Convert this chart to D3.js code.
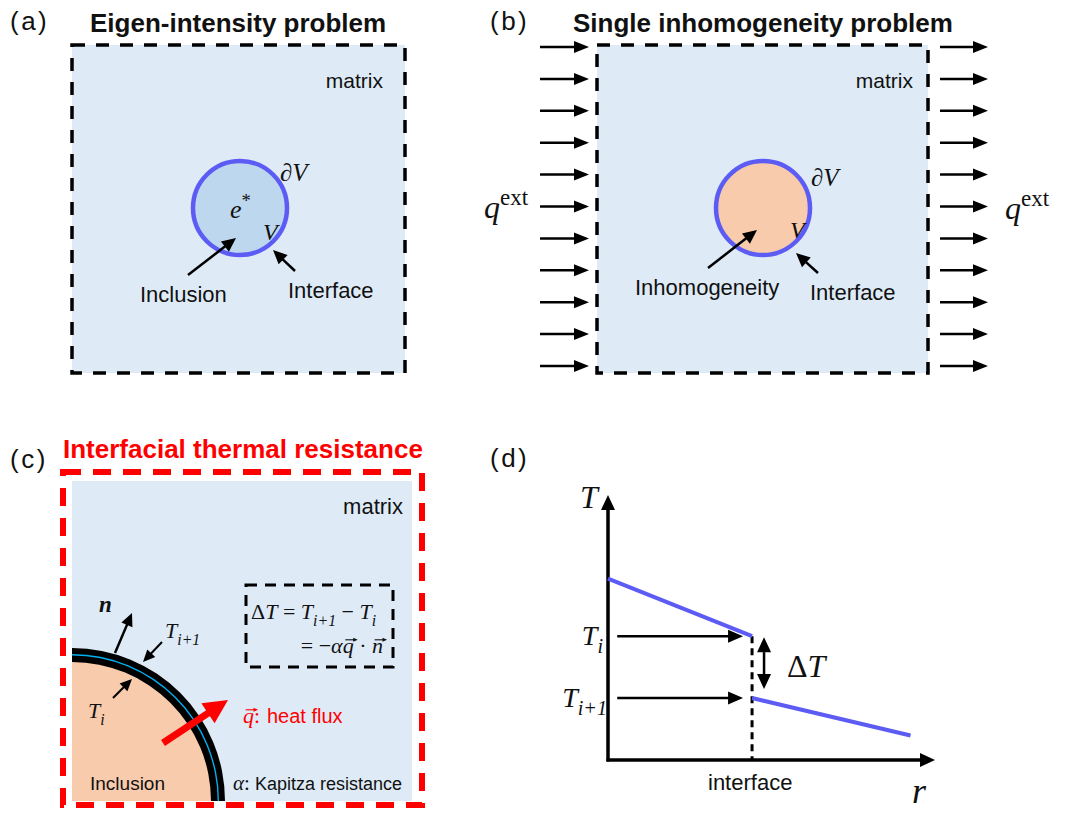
<!DOCTYPE html>
<html>
<head>
<meta charset="utf-8">
<script src="https://cdn.jsdelivr.net/npm/d3@7"></script>
<style>
  body { margin: 0; background: #fff; }
  svg { display: block; }
</style>
</head>
<body>
<div id="fig"></div>
<script>
// panel labels and titles
var panelLabels = ["(a)", "(b)", "(c)", "(d)"];
var panelTitles = ["Eigen-intensity problem", "Single inhomogeneity problem", "Interfacial thermal resistance"];

// external flux arrows in (b), one per row
var fluxRows = [0, 1, 2, 3, 4, 5, 6, 7, 8, 9, 10];

// temperature profile in (d): r vs T on both sides of the interface
var rInner = [0, 5],    TInner = [6.3, 4.3];
var rOuter = [5, 10.5], TOuter = [2.15, 0.85];
var rInterface = 5;
var rMax = 11.35, TMax = 9.2;

var SANS = "'Liberation Sans', Arial, sans-serif";
var SERIF = "'Liberation Serif', 'DejaVu Serif', serif";
var matrixFill = "#deebf7";
var ringBlue = "#5c5cf5";

var svg = d3.select("#fig").append("svg")
    .attr("width", 1078)
    .attr("height", 813);

// ---------- helpers ----------
function arrow(g, x1, y1, x2, y2, o) {
  o = o || {};
  var w = o.w || 2.5, L = o.L || 13, H = o.H || 12, c = o.c || "#000";
  var dx = x2 - x1, dy = y2 - y1, len = Math.hypot(dx, dy);
  var ux = dx / len, uy = dy / len;
  var bx = x2 - ux * L, by = y2 - uy * L;
  var sx = x1, sy = y1;
  if (o.both) { sx = x1 + ux * L; sy = y1 + uy * L; }
  g.append("line")
    .attr("x1", sx).attr("y1", sy)
    .attr("x2", bx + ux * 2).attr("y2", by + uy * 2)
    .attr("stroke", c).attr("stroke-width", w);
  g.append("path")
    .attr("d", "M" + x2 + "," + y2 + "L" + (bx - uy * H / 2) + "," + (by + ux * H / 2) +
               "L" + (bx + uy * H / 2) + "," + (by - ux * H / 2) + "Z")
    .attr("fill", c);
  if (o.both) {
    g.append("path")
      .attr("d", "M" + x1 + "," + y1 + "L" + (sx - uy * H / 2) + "," + (sy + ux * H / 2) +
                 "L" + (sx + uy * H / 2) + "," + (sy - ux * H / 2) + "Z")
      .attr("fill", c);
  }
}

function sans(g, x, y, s, size, o) {
  o = o || {};
  return g.append("text")
    .attr("x", x).attr("y", y)
    .attr("font-family", SANS)
    .attr("font-size", size)
    .attr("font-weight", o.bold ? "bold" : "normal")
    .attr("letter-spacing", o.ls || 0)
    .attr("fill", o.c || "#111")
    .attr("text-anchor", o.anchor || "start")
    .text(s);
}

// math text: parts = [[text, kind]], kind in: "", "sub", "sup", "up", "supUp", "bold", "vec"
function math(g, x, y, size, parts, o) {
  o = o || {};
  var col = o.c || "#111";
  var t = g.append("text")
    .attr("x", x).attr("y", y)
    .attr("font-family", SERIF)
    .attr("font-size", size)
    .attr("font-style", "italic")
    .attr("fill", col)
    .attr("text-anchor", o.anchor || "start");
  var shift = 0, idx = 0, vecs = [];
  parts.forEach(function(p) {
    var kind = p[1] || "";
    var target = kind === "sub" ? size * 0.3 : (kind === "sup" || kind === "supUp") ? -size * 0.42 : 0;
    var ts = t.append("tspan").text(p[0]);
    if (target - shift !== 0) ts.attr("dy", target - shift);
    shift = target;
    if (kind === "sub" || kind === "sup" || kind === "supUp") ts.attr("font-size", size * 0.72);
    if (kind === "up" || kind === "supUp") ts.attr("font-style", "normal");
    if (kind === "bold") ts.attr("font-weight", "bold");
    if (kind === "vec") vecs.push(idx);
    idx += p[0].length;
  });
  // vector arrows drawn over letters
  vecs.forEach(function(i) {
    var n = t.node();
    var s = n.getStartPositionOfChar(i), e = n.getEndPositionOfChar(i);
    var x0 = s.x + size * 0.12, x1 = e.x + size * 0.14, yv = s.y - size * 0.6;
    g.append("line").attr("x1", x0).attr("x2", x1 - 2).attr("y1", yv).attr("y2", yv)
      .attr("stroke", col).attr("stroke-width", size * 0.05);
    g.append("path")
      .attr("d", "M" + (x1 + 1) + "," + yv + "L" + (x1 - size * 0.16) + "," + (yv - size * 0.09) +
                 "L" + (x1 - size * 0.16) + "," + (yv + size * 0.09) + "Z")
      .attr("fill", col);
  });
  return t;
}

function dashedBox(g, x, y, w, h, o) {
  o = o || {};
  g.append("rect")
    .attr("x", x).attr("y", y).attr("width", w).attr("height", h)
    .attr("fill", o.fill || "none")
    .attr("stroke", o.c || "#000")
    .attr("stroke-width", o.w || 3.5)
    .attr("stroke-dasharray", o.dash || "13,11");
}

// ---------- panel labels ----------
var labelPos = [[10, 30], [490, 30], [10, 468], [490, 467]];
panelLabels.forEach(function(d, i) {
  sans(svg, labelPos[i][0], labelPos[i][1], d, 26, {c: "#111", ls: 2.5});
});

// ---------- (a) eigen-intensity ----------
var ga = svg.append("g");
sans(ga, 90, 32, panelTitles[0], 26, {bold: true});
dashedBox(ga, 72, 45, 333, 328, {fill: matrixFill});
sans(ga, 383, 88, "matrix", 21, {anchor: "end"});
ga.append("circle").attr("cx", 240).attr("cy", 208).attr("r", 47)
  .attr("fill", "#bdd7ee").attr("stroke", ringBlue).attr("stroke-width", 4.5);
math(ga, 230, 218, 26, [["e"], ["*", "supUp"]]);
math(ga, 280, 181, 25, [["∂"], ["V"]]);
math(ga, 263, 240, 24, [["V"]]);
arrow(ga, 188, 275, 236, 238, {w: 2.5, L: 14, H: 13});
arrow(ga, 295, 271, 273, 250, {w: 2.5, L: 14, H: 13});
sans(ga, 140, 302, "Inclusion", 22);
sans(ga, 288, 298, "Interface", 22);

// ---------- (b) single inhomogeneity ----------
var gb = svg.append("g");
sans(gb, 573, 32, panelTitles[1], 26, {bold: true});
dashedBox(gb, 597, 45, 331, 328, {fill: matrixFill});
sans(gb, 913, 88, "matrix", 21, {anchor: "end"});

var rowY = d3.scaleLinear().domain([0, 10]).range([47, 366]);
fluxRows.forEach(function(d) {
  arrow(gb, 540, rowY(d), 589, rowY(d), {w: 2.5, L: 15, H: 12});
  arrow(gb, 940, rowY(d), 988, rowY(d), {w: 2.5, L: 15, H: 12});
});
math(gb, 484, 218, 32, [["q"], ["ext", "supUp"]]);
math(gb, 1005, 219, 32, [["q"], ["ext", "supUp"]]);

gb.append("circle").attr("cx", 763).attr("cy", 208).attr("r", 47)
  .attr("fill", "#f8cbad").attr("stroke", ringBlue).attr("stroke-width", 4.5);
math(gb, 811, 186, 25, [["∂"], ["V"]]);
math(gb, 790, 238, 24, [["V"]]);
arrow(gb, 708, 268, 757, 230, {w: 2.5, L: 14, H: 13});
arrow(gb, 818, 273, 796, 253, {w: 2.5, L: 14, H: 13});
sans(gb, 635, 295, "Inhomogeneity", 22);
sans(gb, 810, 300, "Interface", 22);

// ---------- (c) interfacial thermal resistance ----------
var gc = svg.append("g");
sans(gc, 63, 458, panelTitles[2], 26, {bold: true, c: "#ff0000"});
gc.append("rect").attr("x", 72).attr("y", 481).attr("width", 340).attr("height", 320)
  .attr("fill", matrixFill);
svg.append("clipPath").attr("id", "clipc")
  .append("rect").attr("x", 72).attr("y", 481).attr("width", 340).attr("height", 320);
var gq = gc.append("g").attr("clip-path", "url(#clipc)")
  .append("g").attr("transform", "translate(72,801)");
var quarter = d3.arc().startAngle(0).endAngle(Math.PI / 2);
gq.append("path").attr("d", quarter({innerRadius: 0, outerRadius: 140})).attr("fill", "#f8cbad");
gq.append("path").attr("d", quarter({innerRadius: 139, outerRadius: 153})).attr("fill", "#000");
gq.append("path").attr("d", quarter({innerRadius: 145.6, outerRadius: 147})).attr("fill", "#00b0f0");

dashedBox(gc, 63, 472, 359, 333, {c: "#ff0000", w: 6, dash: "18,12"});
sans(gc, 403, 514, "matrix", 22, {anchor: "end"});

// normal vector and temperatures
arrow(gc, 115, 653, 132, 613, {w: 2.5, L: 13, H: 12});
math(gc, 99, 612, 23, [["n", "bold"]]);
arrow(gc, 162, 642, 143, 662, {w: 2, L: 12, H: 11});
math(gc, 165, 638, 22, [["T"], ["i+1", "sub"]]);
arrow(gc, 113, 698, 132, 679, {w: 2, L: 12, H: 11});
math(gc, 88, 718, 22, [["T"], ["i", "sub"]]);

// equation box
dashedBox(gc, 246, 585, 147, 82, {w: 3, dash: "11,8"});
math(gc, 251, 619, 22, [["Δ", "up"], ["T", ""], [" = ", "up"], ["T"], ["i+1", "sub"], [" − ", "up"], ["T", ""], ["i", "sub"]]);
math(gc, 383, 653, 22, [["= −", "up"], ["α"], ["q", "vec"], [" · ", "up"], ["n", "vec"]], {anchor: "end"});

// heat flux
arrow(gc, 163, 743, 228, 700, {w: 7, L: 24, H: 24, c: "#ff0000"});
math(gc, 243, 723, 22, [["q", "vec"], [":", "up"]], {c: "#ff0000"});
sans(gc, 267, 723, "heat flux", 20, {c: "#ff0000"});

sans(gc, 90, 790, "Inclusion", 19);
math(gc, 233, 790, 21, [["α"], [":", "up"]]);
sans(gc, 255, 790, "Kapitza resistance", 18);

// ---------- (d) temperature jump ----------
var gd = svg.append("g");
var x = d3.scaleLinear().domain([0, rMax]).range([608, 935]);
var y = d3.scaleLinear().domain([0, TMax]).range([760, 495]);

// axes with arrow heads
arrow(gd, x(0), y(0) + 1.5, x(0), y(TMax), {w: 3.5, L: 15, H: 14});
arrow(gd, x(0) - 1.5, y(0), x(rMax), y(0), {w: 3.5, L: 15, H: 14});

// interface dashed line
gd.append("line")
  .attr("x1", x(rInterface)).attr("x2", x(rInterface))
  .attr("y1", y(TInner[1])).attr("y2", y(0))
  .attr("stroke", "#000").attr("stroke-width", 3)
  .attr("stroke-dasharray", "7,5");

var line = d3.line().x(function(d) { return x(d[0]); }).y(function(d) { return y(d[1]); });
gd.append("path").datum(d3.zip(rInner, TInner)).attr("d", line)
  .attr("fill", "none").attr("stroke", ringBlue).attr("stroke-width", 4);
gd.append("path").datum(d3.zip(rOuter, TOuter)).attr("d", line)
  .attr("fill", "none").attr("stroke", ringBlue).attr("stroke-width", 4);

// level arrows
arrow(gd, x(0.32), y(TInner[1]), x(rInterface) - 9, y(TInner[1]), {w: 2.5, L: 15, H: 13});
arrow(gd, x(0.32), y(TOuter[0]), x(rInterface) - 9, y(TOuter[0]), {w: 2.5, L: 15, H: 13});
arrow(gd, x(rInterface) + 12, y(TInner[1]) + 1, x(rInterface) + 12, y(TOuter[0]) - 9,
  {w: 2.5, L: 15, H: 14, both: true});

math(gd, 603, 645, 28, [["T"], ["i", "sub"]], {anchor: "end"});
math(gd, 607, 707, 28, [["T"], ["i+1", "sub"]], {anchor: "end"});
math(gd, 787, 677, 32, [["Δ", "up"], ["T"]]);
math(gd, 580, 508, 32, [["T"]]);
math(gd, 912, 803, 36, [["r"]]);
sans(gd, 708, 790, "interface", 22);
</script>
</body>
</html>
